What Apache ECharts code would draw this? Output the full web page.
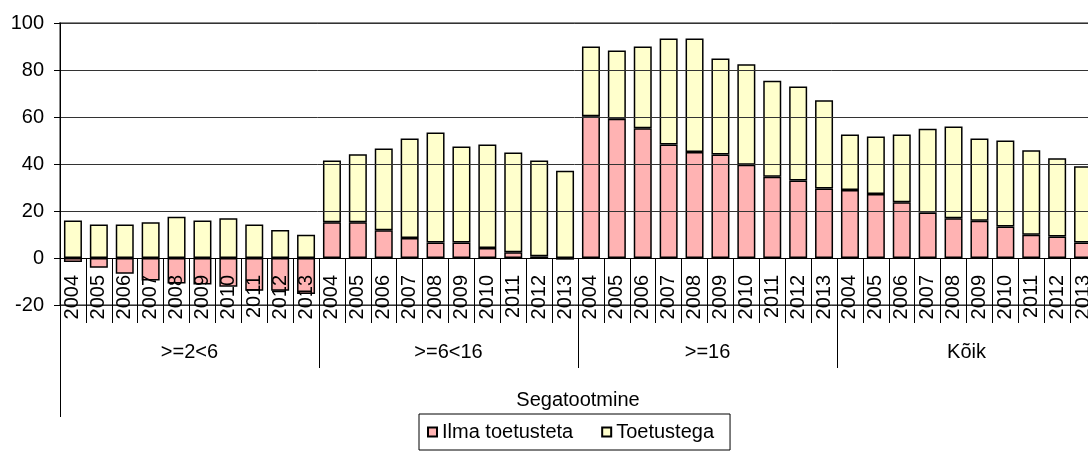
<!DOCTYPE html>
<html>
<head>
<meta charset="utf-8">
<script src="https://cdn.jsdelivr.net/npm/echarts@6/dist/echarts.min.js"></script>
<style>
  html, body { margin: 0; padding: 0; background: #fff; }
  #chart { width: 1088px; height: 452px; }
</style>
</head>
<body>
<div id="chart"></div>
<script>
// aastad iga rühma all
var years = ['2004', '2005', '2006', '2007', '2008', '2009', '2010', '2011', '2012', '2013'];
var groups = ['>=2<6', '>=6<16', '>=16', 'Kõik'];
var outerLabel = ['Segatootmine'];

// kategooriad: 4 rühma x 10 aastat
var categories = [];
groups.forEach(function () {
    years.forEach(function (y) { categories.push(y); });
});

var ilmaToetusteta = [
    -1.7, -4.2, -6.7, -9.6, -10.8, -11.3, -12.2, -13.9, -13.9, -15.3,
    15.2, 15.2, 11.8, 8.5, 6.6, 6.6, 4.3, 2.4, 0.7, -0.7,
    60.3, 59.3, 55.2, 48.3, 45.1, 44.0, 39.7, 34.6, 33.0, 29.6,
    28.9, 27.2, 23.7, 19.4, 16.9, 15.9, 13.4, 9.9, 9.2, 6.6
];
var toetustega = [
    16.0, 14.3, 14.3, 15.2, 17.6, 16.0, 16.9, 14.3, 11.9, 9.9,
    26.3, 28.9, 34.8, 42.3, 46.8, 40.9, 44.0, 42.5, 40.8, 37.1,
    29.7, 29.0, 34.8, 45.1, 48.3, 40.9, 42.7, 40.8, 40.0, 37.5,
    23.7, 24.5, 28.9, 35.6, 39.1, 34.9, 36.6, 35.9, 33.2, 32.4
];

var font = 'Liberation Sans, Arial, sans-serif';
var myChart = echarts.init(document.getElementById('chart'));

// grid: 23..305, y -20..100 => 0 on 47px kõrgusel põhjast
var option = {
    animation: false,
    textStyle: { fontFamily: font },
    grid: {
        left: 60,
        right: -8,
        top: 23,
        bottom: 147,
        outerBoundsMode: 'none',
        show: true,
        borderColor: '#888',
        borderWidth: 2,
        backgroundColor: 'transparent'
    },
    legend: {
        data: ['Ilma toetusteta', 'Toetustega'],
        left: 419,
        top: 414,
        padding: [8, 16, 8, 8],
        itemGap: 28,
        itemWidth: 9,
        itemHeight: 9,
        icon: 'rect',
        borderColor: '#000',
        borderWidth: 1,
        textStyle: { fontSize: 20, color: '#000', fontFamily: font }
    },
    xAxis: [
        {
            type: 'category',
            data: categories,
            position: 'bottom',
            offset: -47,
            z: 5,
            axisLine: { onZero: false, lineStyle: { color: '#000', width: 1 } },
            axisTick: { show: true, length: 65, interval: 0, lineStyle: { color: '#000' } },
            axisLabel: {
                interval: 0,
                rotate: 90,
                margin: 17,
                fontSize: 20,
                color: '#000',
                fontFamily: font
            },
            splitLine: { show: false }
        },
        {
            type: 'category',
            data: groups,
            position: 'bottom',
            offset: 18,
            z: 5,
            axisLine: { show: false, onZero: false },
            axisTick: { show: true, length: 45, lineStyle: { color: '#000' } },
            axisLabel: { margin: 19, fontSize: 20, color: '#000', fontFamily: font },
            splitLine: { show: false }
        },
        {
            type: 'category',
            data: outerLabel,
            position: 'bottom',
            offset: 18,
            z: 5,
            axisLine: { show: false, onZero: false },
            axisTick: { show: true, length: 94, lineStyle: { color: '#000' } },
            axisLabel: { margin: 67, fontSize: 20, color: '#000', fontFamily: font },
            splitLine: { show: false }
        }
    ],
    yAxis: {
        type: 'value',
        min: -20,
        max: 100,
        interval: 20,
        z: 5,
        axisLine: { show: true, lineStyle: { color: '#000' } },
        axisTick: { show: true, length: 6, lineStyle: { color: '#000' } },
        axisLabel: { margin: 16, fontSize: 20, color: '#000', fontFamily: font },
        splitLine: {
            show: true,
            lineStyle: { color: '#333', width: 1 }
        }
    },
    series: [
        {
            name: 'Ilma toetusteta',
            type: 'bar',
            stack: 'a',
            xAxisIndex: 0,
            barWidth: 18,
            data: ilmaToetusteta,
            itemStyle: { color: '#ffb3b3', borderColor: '#000', borderWidth: 1.5 }
        },
        {
            name: 'Toetustega',
            type: 'bar',
            stack: 'a',
            xAxisIndex: 0,
            barWidth: 18,
            data: toetustega,
            itemStyle: { color: '#ffffcc', borderColor: '#000', borderWidth: 1.5 }
        }
    ]
};

myChart.setOption(option);
</script>
</body>
</html>
